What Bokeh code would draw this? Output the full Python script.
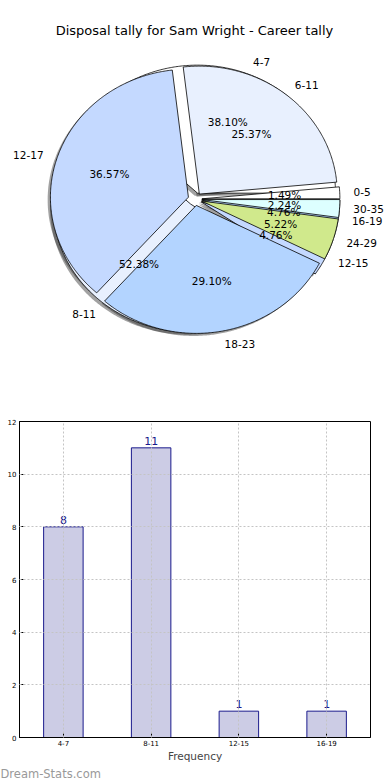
import numpy as np
from bokeh.plotting import figure
from bokeh.models import Range1d, FactorRange, FixedTicker, Label, Title, ColumnDataSource
from bokeh.embed import file_html
from bokeh.resources import INLINE
from bokeh.core.properties import value

title_text = "Disposal tally for Sam Wright - Career tally"

# inner pie: per-game disposal bins (same as the bar chart)
pie1_labels = ["4-7", "8-11", "12-15", "16-19"]
pie1_counts = [8, 11, 1, 1]
# outer pie: career tally bins
pie2_labels = ["0-5", "6-11", "12-17", "18-23", "24-29", "30-35"]
pie2_counts = [2, 34, 49, 39, 7, 3]

palette = ["#FFFFFF", "#E8F0FE", "#C4D9FF", "#B3D4FF", "#D0E98C", "#DDFFFF"]

bar_categories = ["4-7", "8-11", "12-15", "16-19"]
bar_values = [8, 11, 1, 1]
y_ticks = [0, 2, 4, 6, 8, 10, 12]

FONT = "DejaVu Sans"
EXPLODE = 0.05
W = 390
BL, BR = 19, 20          # left/right borders of the bar chart


def wedges(counts, explode, dx=0.0, dy=0.0):
    c = np.asarray(counts, dtype=float)
    fr = c / c.sum()
    edges = np.concatenate([[0.0], np.cumsum(fr)]) * 2 * np.pi
    xs, ys, mids = [], [], []
    for t0, t1 in zip(edges[:-1], edges[1:]):
        m = 0.5 * (t0 + t1)
        ox = explode * np.cos(m) + dx
        oy = explode * np.sin(m) + dy
        n = max(int((t1 - t0) / 0.01), 3)
        t = np.linspace(t0, t1, n)
        xs.append(list(np.concatenate([[ox], ox + np.cos(t), [ox]])))
        ys.append(list(np.concatenate([[oy], oy + np.sin(t), [oy]])))
        mids.append(m)
    return xs, ys, np.array(mids), fr


# ---------------- pie figure ----------------
H1 = 393
cx, cy, rx, ry = 194.5, 198.6, 138.0, 128.0   # pie centre in canvas pixels
p1 = figure(width=W, height=H1, output_backend="svg", toolbar_location=None,
            x_range=Range1d(-cx / rx, (W - cx) / rx),
            y_range=Range1d(-(H1 - cy) / ry, cy / ry),
            x_axis_location=None, y_axis_location=None, min_border=0)
p1.outline_line_color = None
p1.grid.visible = False

# shadows
for counts in (pie1_counts, pie2_counts):
    sx, sy, _, _ = wedges(counts, EXPLODE, -0.02, -0.02)
    p1.patches(xs=sx, ys=sy, fill_color="#303030", fill_alpha=0.45,
               line_color=None)

texts = []
for labels, counts in ((pie1_labels, pie1_counts), (pie2_labels, pie2_counts)):
    xs, ys, mids, fr = wedges(counts, EXPLODE)
    src = ColumnDataSource(dict(xs=xs, ys=ys, color=palette[:len(counts)]))
    p1.patches(xs="xs", ys="ys", fill_color="color", line_color="black",
               line_width=0.8, source=src)
    texts.append((labels, mids, fr))

for labels, mids, fr in texts:
    lx = (1.1 + EXPLODE) * np.cos(mids)
    ly = (1.1 + EXPLODE) * np.sin(mids)
    for name, x, y in zip(labels, lx, ly):
        p1.text(x=[x], y=[y], text=[name],
                text_align="left" if x > 0 else "right",
                text_baseline="middle", text_font=value(FONT),
                text_font_size="10.5px", text_color="black")
    px = (0.6 + EXPLODE) * np.cos(mids)
    py = (0.6 + EXPLODE) * np.sin(mids)
    p1.text(x=list(px), y=list(py), text=[f"{100 * f:.2f}%" for f in fr],
            text_align="center", text_baseline="middle", text_font=value(FONT),
            text_font_size="10.5px", text_color="black")

p1.add_layout(Label(x=194, y=H1 - 30, x_units="screen", y_units="screen",
                    text=title_text, text_align="center", text_baseline="middle",
                    text_font=FONT, text_font_size="13px", text_color="black"))

# ---------------- bar figure ----------------
H2 = 780 - H1
p2 = figure(width=W, height=H2, output_backend="svg", toolbar_location=None,
            x_range=FactorRange(*bar_categories), y_range=Range1d(0, 12),
            min_border_left=BL, min_border_right=BR, min_border_top=28,
            min_border_bottom=40)
p2.vbar(x=bar_categories, top=bar_values, width=0.45, fill_color="#CCCCE5",
        line_color="#1a1a8c", line_width=1)
p2.text(x=bar_categories, y=bar_values, text=[str(v) for v in bar_values],
        text_align="center", text_baseline="bottom", y_offset=-3,
        text_color="#1a1a8c", text_font=value(FONT), text_font_size="11px")

p2.outline_line_color = "black"
p2.outline_line_width = 1
for ax in (p2.xaxis, p2.yaxis):
    ax.major_tick_in = 4
    ax.major_tick_out = 0
    ax.minor_tick_line_color = None
    ax.major_label_text_font = FONT
    ax.major_label_text_font_size = "7px"
    ax.major_label_text_color = "black"
    ax.axis_line_color = "black"
    ax.major_tick_line_color = "black"
    ax.major_label_standoff = 3
p2.yaxis.ticker = FixedTicker(ticks=y_ticks)
p2.yaxis.major_label_standoff = 3
p2.xaxis.major_label_standoff = 2
p2.xaxis.axis_label = "Frequency"
p2.xaxis.axis_label_text_font = FONT
p2.xaxis.axis_label_text_font_size = "10.5px"
p2.xaxis.axis_label_text_font_style = "normal"
p2.xaxis.axis_label_standoff = 1

for g in (p2.xgrid, p2.ygrid):
    g.grid_line_color = "#c4c4c4"
    g.grid_line_dash = "2 2"
    g.grid_line_width = 1
    g.level = "overlay"

p2.add_layout(Title(text="Dream-Stats.com", align="left", offset=-BL, standoff=0,
                    text_font=FONT, text_font_size="11.5px", text_font_style="normal",
                    text_color="#999999"), "below")

open("out.html", "w").write(file_html([p1, p2], INLINE))
